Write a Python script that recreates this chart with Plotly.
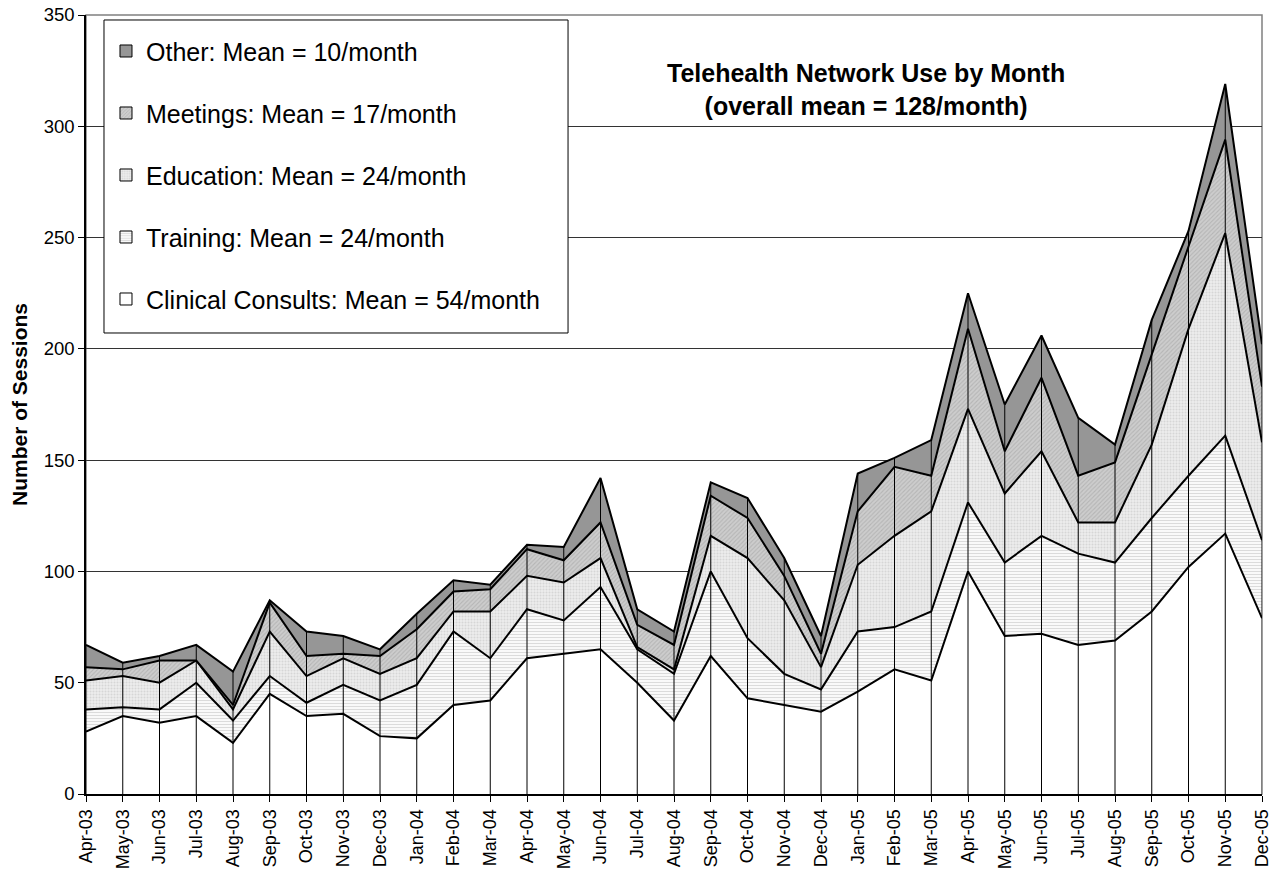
import plotly.graph_objects as go

months = ["Apr-03", "May-03", "Jun-03", "Jul-03", "Aug-03", "Sep-03", "Oct-03", "Nov-03",
          "Dec-03", "Jan-04", "Feb-04", "Mar-04", "Apr-04", "May-04", "Jun-04", "Jul-04",
          "Aug-04", "Sep-04", "Oct-04", "Nov-04", "Dec-04", "Jan-05", "Feb-05", "Mar-05",
          "Apr-05", "May-05", "Jun-05", "Jul-05", "Aug-05", "Sep-05", "Oct-05", "Nov-05",
          "Dec-05"]

clinical = [28, 35, 32, 35, 23, 45, 35, 36, 26, 25, 40, 42, 61, 63, 65, 50, 33,
            62, 43, 40, 37, 46, 56, 51, 100, 71, 72, 67, 69, 82, 102, 117, 79]
training = [10, 4, 6, 15, 10, 8, 6, 13, 16, 24, 33, 19, 22, 15, 28, 15, 21,
            38, 27, 14, 10, 27, 19, 31, 31, 33, 44, 41, 35, 42, 41, 44, 35]
education = [13, 14, 12, 10, 5, 20, 12, 12, 12, 12, 9, 21, 15, 17, 13, 1, 2,
             16, 36, 33, 10, 30, 41, 45, 42, 31, 38, 14, 18, 33, 66, 91, 44]
meetings = [6, 3, 10, 0, 2, 13, 9, 2, 8, 13, 9, 10, 12, 10, 16, 10, 11,
            18, 18, 11, 6, 24, 31, 16, 36, 19, 33, 21, 27, 41, 37, 42, 25]
other = [10, 3, 2, 7, 15, 1, 11, 8, 3, 7, 5, 2, 2, 6, 20, 7, 6,
         6, 9, 8, 8, 17, 4, 16, 16, 21, 19, 26, 8, 15, 7, 25, 19]

names = ["Clinical Consults: Mean = 54/month", "Training: Mean = 24/month",
         "Education: Mean = 24/month", "Meetings: Mean = 17/month",
         "Other: Mean = 10/month"]

FONT = "Arial, Liberation Sans, sans-serif"

fills = ["#ffffff", "#ffffff", "#e6e6e6", "#c8c8c8", "#969696"]
patterns = [
    None,
    dict(shape="-", fgcolor="#b8b8b8", bgcolor="#ffffff", size=3, solidity=0.45),
    dict(shape=".", fgcolor="#c0c0c0", bgcolor="#ececec", size=3, solidity=0.35),
    dict(shape="/", fgcolor="#9c9c9c", bgcolor="#cdcdcd", size=3, solidity=0.35),
    None,
]

fig = go.Figure()

series_list = [clinical, training, education, meetings, other]
for i, (series, name) in enumerate(zip(series_list, names)):
    kw = dict(
        x=months,
        y=series,
        name=name,
        mode="lines",
        stackgroup="one",
        line=dict(color="black", width=2),
        fillcolor=fills[i],
        showlegend=False,
    )
    if patterns[i]:
        kw["fillpattern"] = patterns[i]
    fig.add_trace(go.Scatter(**kw))

# drop lines from each month's total down to the axis
totals = [a + b + c + d + e for a, b, c, d, e in zip(*series_list)]
drop_x, drop_y = [], []
for m, t in zip(months, totals):
    drop_x += [m, m, None]
    drop_y += [0, t, None]
fig.add_trace(go.Scatter(x=drop_x, y=drop_y, mode="lines",
                         line=dict(color="black", width=1),
                         showlegend=False, hoverinfo="skip"))

# legend entries with square swatches (empty bar traces), top entry first
for i in range(4, -1, -1):
    marker = dict(color=fills[i], line=dict(color="black", width=1))
    if patterns[i]:
        marker["pattern"] = patterns[i]
    fig.add_trace(go.Bar(x=[months[0]], y=[None], name=names[i], marker=marker,
                         legendgroup=f"g{i}", showlegend=True, hoverinfo="skip"))

fig.add_annotation(
    text="<b>Telehealth Network Use by Month<br>(overall mean = 128/month)</b>",
    xref="paper", yref="paper", x=0.663, y=0.905,
    xanchor="center", yanchor="middle",
    showarrow=False, font=dict(family=FONT, size=25, color="black"),
)

# plot-area border
fig.add_shape(type="rect", xref="paper", yref="paper", x0=0, y0=0, x1=1, y1=1,
              line=dict(color="#808080", width=1.5), layer="below")
# legend box
fig.add_shape(type="rect", xref="paper", yref="paper", x0=0.0153, y0=0.5918,
              x1=0.4099, y1=0.9936, fillcolor="white",
              line=dict(color="black", width=1), layer="above")

fig.update_layout(
    width=1278,
    height=873,
    margin=dict(l=86, r=16, t=15, b=79),
    paper_bgcolor="white",
    plot_bgcolor="white",
    font=dict(family=FONT, size=18, color="black"),
    showlegend=True,
    legend=dict(
        x=0.017, y=0.983, xanchor="left", yanchor="top",
        bgcolor="rgba(0,0,0,0)", borderwidth=0,
        font=dict(family=FONT, size=25, color="black"),
        traceorder="grouped",
        tracegroupgap=26.5,
        itemwidth=30,
    ),
    xaxis=dict(
        type="category",
        range=[0, len(months) - 1],
        tickangle=-90,
        ticks="outside", ticklen=6, tickcolor="black",
        showline=True, linecolor="black", linewidth=2,
        showgrid=False, zeroline=False, automargin=False,
        tickfont=dict(size=18),
    ),
    yaxis=dict(
        range=[0, 350],
        dtick=50,
        ticks="outside", ticklen=6, tickcolor="black",
        showline=True, linecolor="black", linewidth=1.5,
        showgrid=True, gridcolor="#333333", gridwidth=1,
        zeroline=False, automargin=False,
        tickfont=dict(size=18.5),
        title=dict(text="<b>Number of Sessions</b>", font=dict(size=21), standoff=10),
    ),
)

fig.write_html("out.html", config={"displayModeBar": False},
               post_script="document.body.style.margin = '0px';")
